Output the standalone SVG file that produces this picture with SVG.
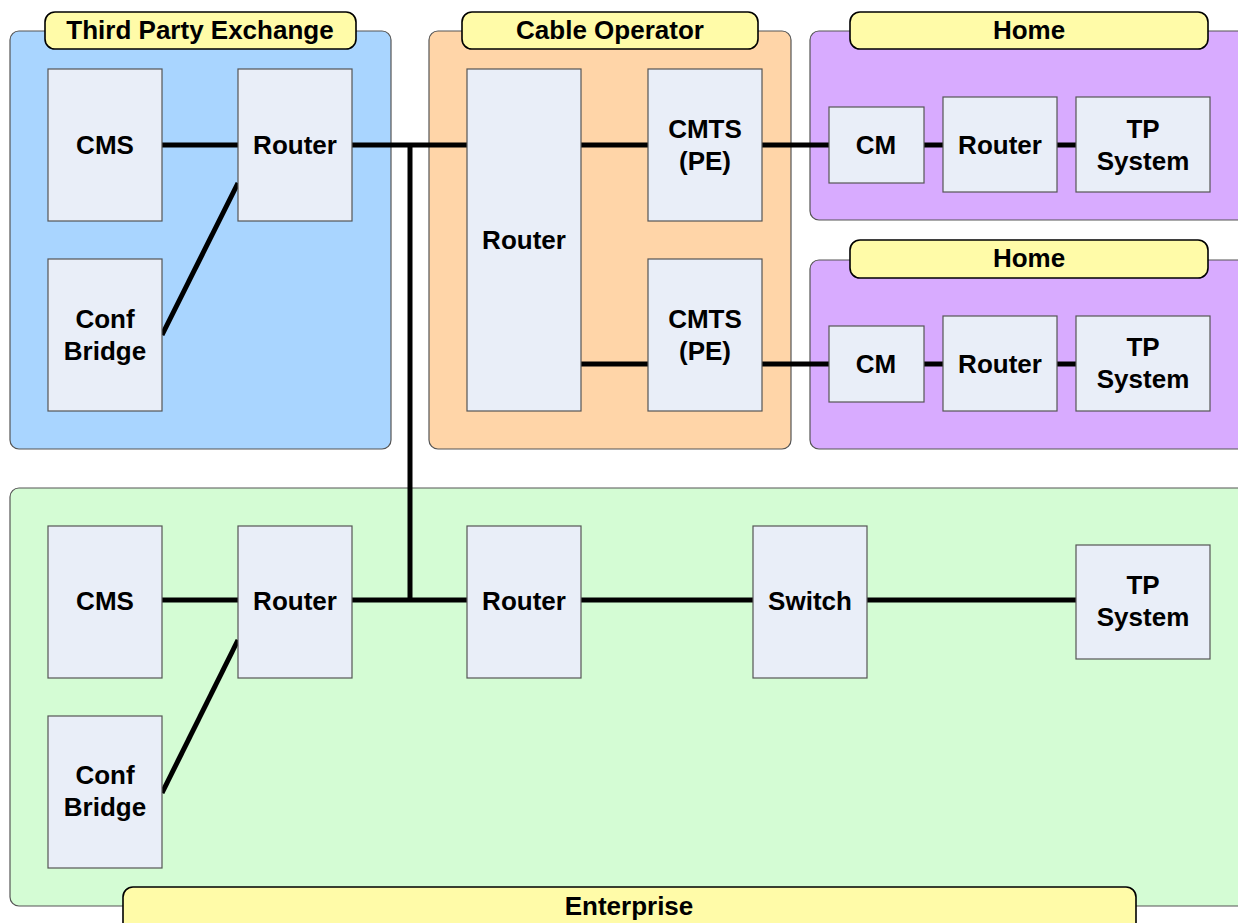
<svg xmlns="http://www.w3.org/2000/svg" width="1238" height="923" viewBox="0 0 1238 923">
  <style>
    .panel { stroke: #555; stroke-width: 1.2; }
    .tpe { fill: #a9d5ff; }
    .cable { fill: #ffd5a8; }
    .home { fill: #d8abff; }
    .ent { fill: #d4fcd4; }
    .tag { fill: #fffba8; stroke: #000; stroke-width: 1.6; }
    .box { fill: #e9eef8; stroke: #555; stroke-width: 1.2; }
    text { font-family: "Liberation Sans", Arial, sans-serif; font-weight: bold; font-size: 26px; fill: #000; text-anchor: middle; }
    .link { stroke: #000; stroke-width: 5; fill: none; }
  </style>

  <!-- site panels -->
  <g id="site-third-party">
    <rect class="panel tpe" x="10" y="31" width="381" height="418" rx="9"/>
    <rect class="tag" x="45" y="12" width="311" height="37" rx="10"/>
    <text x="200" y="39">Third Party Exchange</text>
  </g>
  <g id="site-cable">
    <rect class="panel cable" x="429" y="31" width="362" height="418" rx="9"/>
    <rect class="tag" x="462" y="12" width="296" height="37" rx="10"/>
    <text x="610" y="39">Cable Operator</text>
  </g>
  <g id="site-home-1">
    <rect class="panel home" x="810" y="31" width="440" height="189" rx="9"/>
    <rect class="tag" x="850" y="12" width="358" height="37" rx="10"/>
    <text x="1029" y="39">Home</text>
  </g>
  <g id="site-home-2">
    <rect class="panel home" x="810" y="260" width="440" height="189" rx="9"/>
    <rect class="tag" x="850" y="240" width="358" height="38" rx="10"/>
    <text x="1029" y="267">Home</text>
  </g>
  <g id="site-enterprise">
    <rect class="panel ent" x="10" y="488" width="1240" height="418" rx="9"/>
  </g>

  <!-- connectors -->
  <g id="connectors">
    <line class="link" x1="162" y1="145" x2="238" y2="145"/>
    <line class="link" x1="162" y1="335" x2="238" y2="183"/>
    <line class="link" x1="352" y1="145" x2="467" y2="145"/>
    <line class="link" x1="410" y1="145" x2="410" y2="600"/>
    <line class="link" x1="581" y1="145" x2="648" y2="145"/>
    <line class="link" x1="581" y1="364" x2="648" y2="364"/>
    <line class="link" x1="762" y1="145" x2="829" y2="145"/>
    <line class="link" x1="762" y1="364" x2="829" y2="364"/>
    <line class="link" x1="924" y1="145" x2="943" y2="145"/>
    <line class="link" x1="1057" y1="145" x2="1076" y2="145"/>
    <line class="link" x1="924" y1="364" x2="943" y2="364"/>
    <line class="link" x1="1057" y1="364" x2="1076" y2="364"/>
    <line class="link" x1="162" y1="600" x2="238" y2="600"/>
    <line class="link" x1="162" y1="793" x2="238" y2="640"/>
    <line class="link" x1="352" y1="600" x2="467" y2="600"/>
    <line class="link" x1="581" y1="600" x2="753" y2="600"/>
    <line class="link" x1="867" y1="600" x2="1076" y2="600"/>
  </g>

  <!-- Third Party Exchange nodes -->
  <g id="tpe-cms">
    <rect class="box" x="48" y="69" width="114" height="152"/>
    <text x="105" y="154">CMS</text>
  </g>
  <g id="tpe-router">
    <rect class="box" x="238" y="69" width="114" height="152"/>
    <text x="295" y="154">Router</text>
  </g>
  <g id="tpe-bridge">
    <rect class="box" x="48" y="259" width="114" height="152"/>
    <text x="105" y="328">Conf</text>
    <text x="105" y="360">Bridge</text>
  </g>

  <!-- Cable Operator nodes -->
  <g id="cable-router">
    <rect class="box" x="467" y="69" width="114" height="342"/>
    <text x="524" y="249">Router</text>
  </g>
  <g id="cable-cmts-1">
    <rect class="box" x="648" y="69" width="114" height="152"/>
    <text x="705" y="138">CMTS</text>
    <text x="705" y="170">(PE)</text>
  </g>
  <g id="cable-cmts-2">
    <rect class="box" x="648" y="259" width="114" height="152"/>
    <text x="705" y="328">CMTS</text>
    <text x="705" y="360">(PE)</text>
  </g>

  <!-- Home 1 nodes -->
  <g id="home1-cm">
    <rect class="box" x="829" y="107" width="95" height="76"/>
    <text x="876" y="154">CM</text>
  </g>
  <g id="home1-router">
    <rect class="box" x="943" y="97" width="114" height="95"/>
    <text x="1000" y="154">Router</text>
  </g>
  <g id="home1-tp">
    <rect class="box" x="1076" y="97" width="134" height="95"/>
    <text x="1143" y="138">TP</text>
    <text x="1143" y="170">System</text>
  </g>

  <!-- Home 2 nodes -->
  <g id="home2-cm">
    <rect class="box" x="829" y="326" width="95" height="76"/>
    <text x="876" y="373">CM</text>
  </g>
  <g id="home2-router">
    <rect class="box" x="943" y="316" width="114" height="95"/>
    <text x="1000" y="373">Router</text>
  </g>
  <g id="home2-tp">
    <rect class="box" x="1076" y="316" width="134" height="95"/>
    <text x="1143" y="356">TP</text>
    <text x="1143" y="388">System</text>
  </g>

  <!-- Enterprise nodes -->
  <g id="ent-cms">
    <rect class="box" x="48" y="526" width="114" height="152"/>
    <text x="105" y="610">CMS</text>
  </g>
  <g id="ent-router-edge">
    <rect class="box" x="238" y="526" width="114" height="152"/>
    <text x="295" y="610">Router</text>
  </g>
  <g id="ent-bridge">
    <rect class="box" x="48" y="716" width="114" height="152"/>
    <text x="105" y="784">Conf</text>
    <text x="105" y="816">Bridge</text>
  </g>
  <g id="ent-router-core">
    <rect class="box" x="467" y="526" width="114" height="152"/>
    <text x="524" y="610">Router</text>
  </g>
  <g id="ent-switch">
    <rect class="box" x="753" y="526" width="114" height="152"/>
    <text x="810" y="610">Switch</text>
  </g>
  <g id="ent-tp">
    <rect class="box" x="1076" y="545" width="134" height="114"/>
    <text x="1143" y="594">TP</text>
    <text x="1143" y="626">System</text>
  </g>

  <!-- Enterprise tag sits over the panel's lower edge -->
  <g id="ent-tag">
    <rect class="tag" x="123" y="887" width="1013" height="50" rx="10"/>
    <text x="629" y="915">Enterprise</text>
  </g>
</svg>
